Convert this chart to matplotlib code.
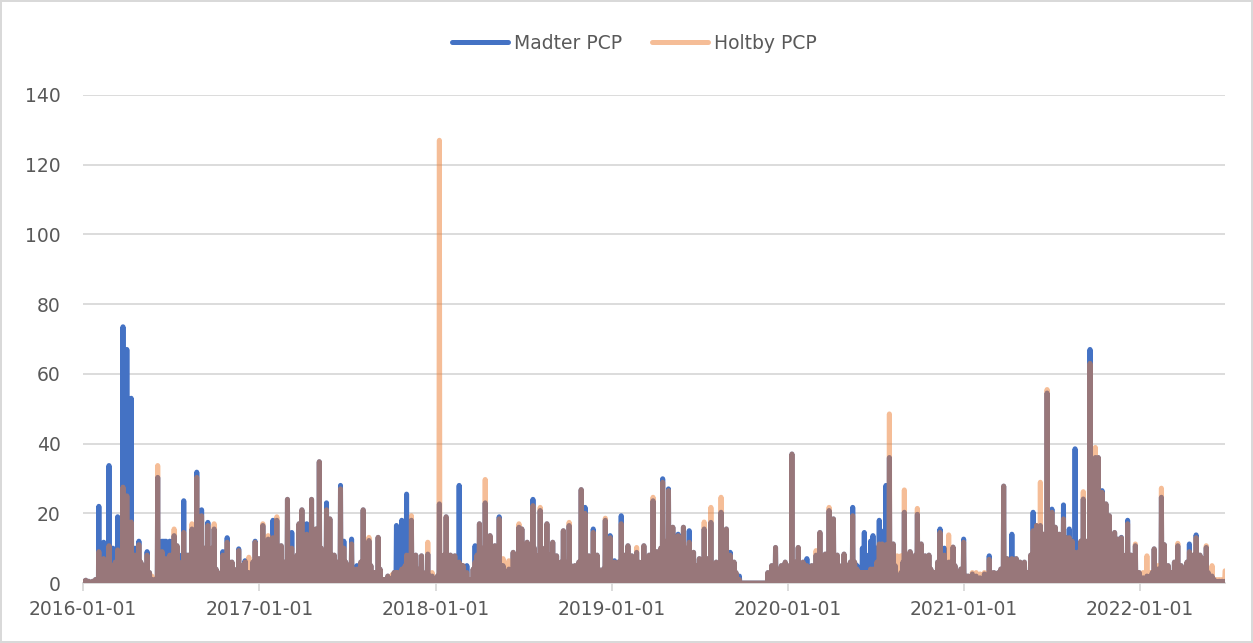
import matplotlib
matplotlib.use("Agg")
import matplotlib.pyplot as plt
import matplotlib.dates as mdates
import numpy as np
import pandas as pd

## daily precipitation record
## rain_day = day number counted from 2016-01-01, days not listed are dry (0)
start_date = "2016-01-01"
n_days = 2369

day_2016 = [2, 6, 12, 20, 26, 33, 38, 43, 48, 54,
            58, 62, 67, 72, 77, 83, 87, 91, 95, 100,
            104, 108, 112, 116, 120, 124, 128, 133, 138, 143,
            149, 155, 160, 164, 168, 172, 176, 180, 185, 189,
            193, 195, 201, 205, 209, 213, 218, 222, 226, 231,
            236, 241, 246, 250, 253, 256, 259, 264, 268, 272,
            276, 280, 285, 290, 294, 299, 304, 309, 313, 318,
            323, 328, 332, 336, 340, 344, 348, 352, 357, 361,
            365]
madter_2016 = [0.5, 0.8, 0.5, 0.5, 1, 22, 5, 11.7, 8, 33.7,
               6, 10, 6, 19, 8, 73.5, 20, 67, 20, 53,
               8, 10, 5, 12, 6, 5, 4, 9, 3, 1,
               1, 30.3, 10, 12, 12, 12, 6, 12, 8, 13.6,
               7, 10.7, 5, 8, 23.6, 8, 8, 6, 15.5, 10,
               31.8, 10, 21, 8, 10, 6, 17.4, 6, 10, 15.5,
               4, 3, 2, 9, 6, 13, 6, 6, 4, 3,
               9.8, 5, 4, 6.4, 3, 3, 2, 6, 12, 6,
               7]
holtby_2016 = [0.5, 0.8, 0.5, 0.5, 1, 9, 4, 7, 6, 10.7,
               5, 5, 6, 9.5, 8, 27.5, 20, 25, 15, 17.5,
               8, 8, 5, 11, 6, 5, 4, 8, 3, 2,
               1, 33.7, 8, 9, 5, 7, 6, 8, 8, 15.5,
               7, 10.7, 4, 6, 14.5, 7, 8, 6, 17, 10,
               30.3, 10, 19.3, 8, 10, 6, 16.5, 6, 10, 17,
               4, 3, 2, 8, 6, 11.7, 6, 6, 4, 3,
               9.3, 5, 4, 6, 3, 7.4, 2, 6, 11.7, 6,
               7]

day_2017 = [369, 373, 378, 384, 389, 394, 398, 402, 406, 411,
            415, 419, 424, 428, 433, 436, 440, 444, 448, 451,
            454, 458, 464, 468, 474, 478, 483, 486, 490, 494,
            498, 501, 505, 508, 512, 516, 521, 525, 529, 534,
            538, 541, 545, 549, 553, 557, 561, 564, 568, 572,
            576, 581, 585, 589, 593, 597, 601, 606, 612, 616,
            622, 627, 632, 637, 641, 645, 650, 653, 657, 661,
            664, 668, 671, 674, 678, 681, 685, 690, 694, 698,
            702, 706, 711, 715, 719, 724, 729]
madter_2017 = [6, 16.5, 8, 12.6, 8, 18, 6, 18, 6, 10.7,
               5, 6, 24, 8, 14.5, 6, 5, 8, 17, 10,
               21, 10, 17, 12, 24, 10, 15.5, 6, 34.8, 10,
               8, 6, 23, 10, 18.4, 8, 8, 5, 6, 28,
               10, 12, 6, 5, 4, 12.6, 4, 2, 5, 4,
               6, 21, 6, 4, 12.2, 5, 3, 3, 13.1, 4,
               1, 1, 2, 1, 1.5, 3, 16.5, 10, 12, 18,
               10, 12, 25.5, 8, 8, 18, 6, 8, 4, 3,
               7.8, 2, 3, 8.3, 2, 2, 1]
holtby_2017 = [6, 17, 8, 13.6, 8, 13, 6, 19, 6, 10.7,
               5, 6, 24, 8, 10, 6, 5, 8, 17, 10,
               21, 10, 14, 12, 24, 10, 15.5, 6, 34.8, 10,
               8, 6, 21, 10, 18.4, 8, 8, 5, 6, 27,
               10, 10, 6, 5, 4, 11.2, 4, 2, 4, 4,
               6, 21, 6, 4, 13.1, 5, 3, 3, 13.1, 4,
               1, 1, 2, 1, 2.4, 3, 3, 3, 2, 4,
               3, 5, 8, 4, 8, 19.3, 6, 8, 4, 3,
               7.8, 2, 3, 11.7, 2, 3, 1]

day_2018 = [735, 739, 742, 746, 749, 753, 757, 762, 766, 771,
            775, 780, 784, 788, 792, 796, 800, 805, 809, 813,
            817, 822, 826, 830, 834, 838, 841, 844, 848, 851,
            854, 858, 863, 867, 871, 875, 879, 883, 887, 892,
            896, 900, 904, 907, 910, 914, 917, 921, 925, 929,
            933, 936, 939, 943, 948, 952, 956, 962, 966, 970,
            974, 978, 982, 986, 991, 996, 1000, 1004, 1008, 1012,
            1016, 1020, 1024, 1028, 1033, 1037, 1041, 1045, 1049, 1053,
            1058, 1062, 1066, 1069, 1072, 1076, 1079]
madter_2018 = [2, 22.7, 8, 6, 8, 19, 8, 8, 5, 7.8,
               5, 28, 5, 5, 4, 5, 1, 1, 4, 10.7,
               8, 17, 8, 10, 23, 10, 8, 13.6, 8, 6,
               10.7, 6, 19, 5, 5, 3, 2, 4, 3, 8.8,
               5, 6, 16, 8, 15.5, 8, 6, 11.7, 6, 8,
               24, 10, 8, 6, 20.8, 10, 8, 17, 8, 6,
               11.7, 5, 7.8, 4, 6, 15, 6, 5, 16.5, 5,
               4, 5, 3, 6, 26.8, 8, 21.7, 6, 7.8, 5,
               15.5, 5, 8, 4, 3, 2, 4]
holtby_2018 = [2, 127, 8, 6, 8, 19, 8, 8, 5, 7.8,
               2, 6, 5, 5, 2, 3, 1, 1, 4, 6,
               8, 17, 8, 10, 29.7, 10, 8, 13.6, 8, 6,
               10.7, 6, 18.4, 5, 7, 3, 4, 6.4, 3, 8.8,
               5, 6, 17, 8, 15.5, 8, 6, 11.7, 6, 8,
               22.2, 10, 8, 6, 21.7, 10, 8, 17, 8, 6,
               11.7, 5, 7.8, 4, 6, 15, 6, 5, 17.4, 5,
               4, 5, 3, 6, 26.8, 8, 20, 6, 7.8, 5,
               14.5, 5, 8, 4, 3, 2, 4]

day_2019 = [1083, 1087, 1093, 1097, 1102, 1106, 1110, 1116, 1120, 1124,
            1130, 1134, 1138, 1142, 1148, 1152, 1156, 1159, 1163, 1167,
            1170, 1174, 1178, 1182, 1186, 1190, 1194, 1198, 1202, 1206,
            1210, 1214, 1218, 1223, 1227, 1230, 1234, 1238, 1241, 1245,
            1249, 1253, 1257, 1261, 1266, 1270, 1274, 1278, 1282, 1288,
            1291, 1294, 1298, 1302, 1306, 1309, 1313, 1318, 1323, 1327,
            1330, 1334, 1338, 1342, 1346, 1350, 1354, 1358, 1361, 1420,
            1424, 1428, 1432, 1436, 1440, 1443, 1448, 1452, 1456]
madter_2019 = [18, 6, 13.6, 5, 6.4, 3, 6, 19.3, 6, 8,
               10.7, 5, 7.8, 4, 8.8, 6, 5, 6, 10.7, 5,
               4, 8, 6, 23.6, 8, 9, 8, 10, 29.9, 10,
               12, 27, 10, 16, 8, 8, 14, 10, 8, 16,
               8, 10, 15, 6, 8.8, 5, 4, 7, 5, 15.5,
               6, 7, 6, 17.4, 5, 4, 6, 5, 20.3, 8,
               6, 15.5, 6, 8.8, 4, 6, 3, 2, 2, 3,
               2, 5, 4, 10.2, 4, 3, 5, 3, 6]
holtby_2019 = [18.6, 6, 13, 5, 6, 3, 6, 17, 6, 8,
               10.7, 5, 7.8, 4, 10.2, 6, 5, 6, 10.7, 5,
               4, 8, 6, 24.6, 8, 9, 8, 10, 28.9, 10,
               12, 26.5, 10, 16, 8, 8, 13.6, 10, 8, 16,
               8, 10, 11.7, 6, 8.8, 5, 4, 7, 5, 17.5,
               6, 7, 6, 21.7, 5, 4, 6, 5, 24.6, 8,
               6, 15.5, 6, 8, 4, 6, 3, 1, 1, 3,
               2, 5, 4, 10.2, 4, 3, 5, 3, 6]

day_2020 = [1460, 1465, 1470, 1474, 1478, 1483, 1487, 1490, 1493, 1497,
            1501, 1505, 1508, 1511, 1515, 1520, 1524, 1528, 1532, 1535,
            1539, 1543, 1547, 1551, 1556, 1560, 1564, 1568, 1572, 1578,
            1582, 1587, 1591, 1596, 1600, 1605, 1608, 1611, 1616, 1620,
            1624, 1628, 1633, 1638, 1642, 1646, 1651, 1654, 1657, 1661,
            1665, 1669, 1672, 1676, 1680, 1684, 1688, 1692, 1696, 1700,
            1703, 1707, 1711, 1715, 1719, 1723, 1726, 1730, 1734, 1738,
            1742, 1746, 1750, 1754, 1758, 1762, 1767, 1772, 1777, 1781,
            1786, 1790, 1795, 1799, 1804, 1808, 1811, 1815, 1820, 1826]
madter_2020 = [2, 5, 37, 5, 6, 10.2, 4, 5, 6, 4,
               7, 4, 3, 5, 4, 8, 5, 14.5, 6, 5,
               8.3, 6, 20.8, 8, 18.4, 6, 8, 5, 4, 8.3,
               3, 5, 6, 21.7, 6, 5, 3, 3, 10, 14.5,
               8, 3, 12, 13.6, 8, 10, 18, 12, 11.2, 15,
               28, 8, 36, 10, 11.2, 5, 2, 2, 3, 6,
               20.3, 8, 6, 9, 6, 4, 8, 19.7, 8, 11.2,
               6, 7.8, 6, 8, 4, 3, 3, 6, 15.5, 6,
               10, 4, 6, 6, 10.3, 5, 3, 3, 4, 12.6]
holtby_2020 = [2, 5, 37, 5, 6, 10.2, 4, 5, 6, 4,
               5, 4, 3, 5, 4, 9.3, 5, 14.5, 6, 5,
               8.3, 6, 21.7, 8, 18.4, 6, 8, 5, 4, 8.3,
               3, 5, 6, 19.3, 6, 4, 3, 3, 3, 3,
               3, 3, 4, 4, 4, 6, 11.2, 8, 11.2, 8,
               11, 8, 48.5, 10, 11.2, 5, 7.8, 4, 7.8, 6,
               26.7, 8, 6, 9, 6, 4, 8, 21.4, 8, 11.2,
               6, 7.8, 6, 8, 4, 3, 3, 6, 14.5, 6,
               8, 4, 13.8, 6, 10.3, 5, 3, 3, 4, 11.7]

day_2021 = [1830, 1835, 1839, 1844, 1848, 1852, 1856, 1860, 1864, 1869,
            1874, 1879, 1883, 1889, 1893, 1898, 1903, 1909, 1912, 1916,
            1920, 1926, 1930, 1935, 1939, 1943, 1947, 1952, 1956, 1960,
            1965, 1970, 1973, 1977, 1981, 1985, 1988, 1991, 1995, 1999,
            2002, 2005, 2009, 2012, 2016, 2020, 2024, 2028, 2033, 2036,
            2039, 2042, 2045, 2048, 2051, 2054, 2057, 2061, 2065, 2069,
            2074, 2078, 2082, 2085, 2088, 2091, 2095, 2099, 2102, 2105,
            2109, 2113, 2117, 2121, 2124, 2128, 2132, 2135, 2139, 2143,
            2146, 2149, 2153, 2157, 2161, 2166, 2170, 2173, 2177, 2182,
            2186, 2190]
madter_2021 = [2, 2, 1, 2.6, 1, 2, 1, 1.5, 1, 2.6,
               2, 7.8, 3, 3, 2, 3, 4, 27.8, 5, 7,
               4, 14, 5, 7, 4, 6, 4, 6, 3, 3,
               8, 20.3, 10, 16.5, 10, 16.5, 10, 14, 10, 54.5,
               12, 12, 21.2, 12, 16, 10, 14, 10, 22.4, 10,
               13, 10, 15.5, 10, 12, 8, 38.5, 8, 9, 12,
               24.1, 10, 12, 10, 67, 15, 20, 36, 20, 36,
               18, 26.5, 15, 22.7, 12, 19.3, 8, 6, 14.5, 8,
               12.6, 8, 13.1, 8, 6, 18, 6, 8, 5, 10.7,
               3, 3]
holtby_2021 = [2, 2, 1, 3, 1, 3, 1, 2.6, 1, 3,
               2, 6.8, 3, 3, 2, 3, 4, 27.8, 5, 7,
               4, 7, 5, 7, 4, 6, 4, 6, 3, 3,
               8, 15, 10, 16.5, 10, 28.9, 10, 14, 10, 55.5,
               12, 12, 20.3, 12, 16, 10, 14, 10, 18.4, 10,
               13, 10, 13, 10, 12, 8, 8.8, 8, 9, 12,
               26.2, 10, 12, 10, 63, 15, 20, 38.9, 20, 36,
               18, 26, 15, 22.7, 12, 19.3, 8, 6, 14.5, 8,
               12.6, 8, 13, 8, 6, 17, 6, 8, 5, 11.2,
               3, 3]

day_2022 = [2194, 2198, 2202, 2206, 2209, 2213, 2217, 2221, 2224, 2228,
            2232, 2236, 2239, 2242, 2246, 2250, 2254, 2258, 2263, 2266,
            2270, 2273, 2277, 2281, 2285, 2289, 2294, 2298, 2302, 2305,
            2308, 2312, 2316, 2319, 2323, 2326, 2329, 2333, 2337, 2341,
            2345, 2350, 2356, 2362, 2368]
madter_2022 = [1, 1.5, 1, 2, 1, 2, 3, 9.8, 3, 4,
               4, 24.6, 6, 11, 4, 5, 3, 3, 6, 4,
               10.7, 4, 5, 3, 3, 6, 11.2, 6, 8, 6,
               13.8, 6, 8, 5, 7, 5, 10.2, 3, 2, 2,
               1, 0.5, 0.5, 0.5, 0.5]
holtby_2022 = [2, 3, 1, 7.8, 1, 3, 3, 9.8, 3, 5,
               4, 27.2, 6, 11, 4, 5, 3, 3, 6, 4,
               11.4, 4, 5, 3, 3, 6, 9, 6, 8, 6,
               13, 6, 8, 5, 7, 5, 10.7, 3, 2, 5,
               1, 1, 1, 1, 3.5]

rain_day = (day_2016 + day_2017 + day_2018 + day_2019 + day_2020
            + day_2021 + day_2022)
madter_pcp = (madter_2016 + madter_2017 + madter_2018 + madter_2019
              + madter_2020 + madter_2021 + madter_2022)
holtby_pcp = (holtby_2016 + holtby_2017 + holtby_2018 + holtby_2019
              + holtby_2020 + holtby_2021 + holtby_2022)

year_ticks = ["2016-01-01", "2017-01-01", "2018-01-01", "2019-01-01",
              "2020-01-01", "2021-01-01", "2022-01-01"]
y_ticks = [0, 20, 40, 60, 80, 100, 120, 140]

## build the daily series
dates = pd.date_range(start_date, periods=n_days, freq="D")
df = pd.DataFrame({"Madter PCP": 0.0, "Holtby PCP": 0.0}, index=dates)
df.iloc[rain_day, 0] = madter_pcp
df.iloc[rain_day, 1] = holtby_pcp

## plotting
text_col = "#595959"
grid_col = "#D9D9D9"
plt.rcParams['font.family'] = ['DejaVu Sans']

fig = plt.figure(figsize=(12.53, 6.43), dpi=100)
fig.patch.set_edgecolor(grid_col)
fig.patch.set_linewidth(1.5)
ax = fig.add_axes([0.0662, 0.0933, 0.9115, 0.759])

ax.plot(df.index, df["Madter PCP"], color="#4472C4", lw=3.6,
        solid_joinstyle="round", solid_capstyle="round",
        label="Madter PCP", zorder=3)
ax.plot(df.index, df["Holtby PCP"], color="#ED7D31", alpha=0.5, lw=3.6,
        solid_joinstyle="round", solid_capstyle="round",
        label="Holtby PCP", zorder=4)

ax.set_xlim(dates[0], dates[-1])
ax.set_ylim(0, 140)
ax.set_yticks(y_ticks)
ax.set_xticks(pd.to_datetime(year_ticks))
ax.xaxis.set_major_formatter(mdates.DateFormatter("%Y-%m-%d"))

ax.grid(axis="y", color=grid_col, lw=1.3, zorder=0)
ax.set_axisbelow(True)
for s in ["top", "right", "left"]:
    ax.spines[s].set_visible(False)
ax.spines["bottom"].set_color(grid_col)
ax.spines["bottom"].set_linewidth(1.3)
ax.spines["bottom"].set_zorder(1)

ax.tick_params(axis="y", length=0, pad=16, labelsize=13.5, labelcolor=text_col)
ax.tick_params(axis="x", length=6, width=1.3, color=grid_col, pad=6,
               labelsize=13.5, labelcolor=text_col)

fig.legend(loc="center", bbox_to_anchor=(0.506, 0.933), ncol=2,
           frameon=False, fontsize=13.5, handlelength=3.0,
           handletextpad=0.3, columnspacing=1.6, labelcolor=text_col)

fig.savefig("out.png", dpi=100, edgecolor=fig.get_edgecolor())
